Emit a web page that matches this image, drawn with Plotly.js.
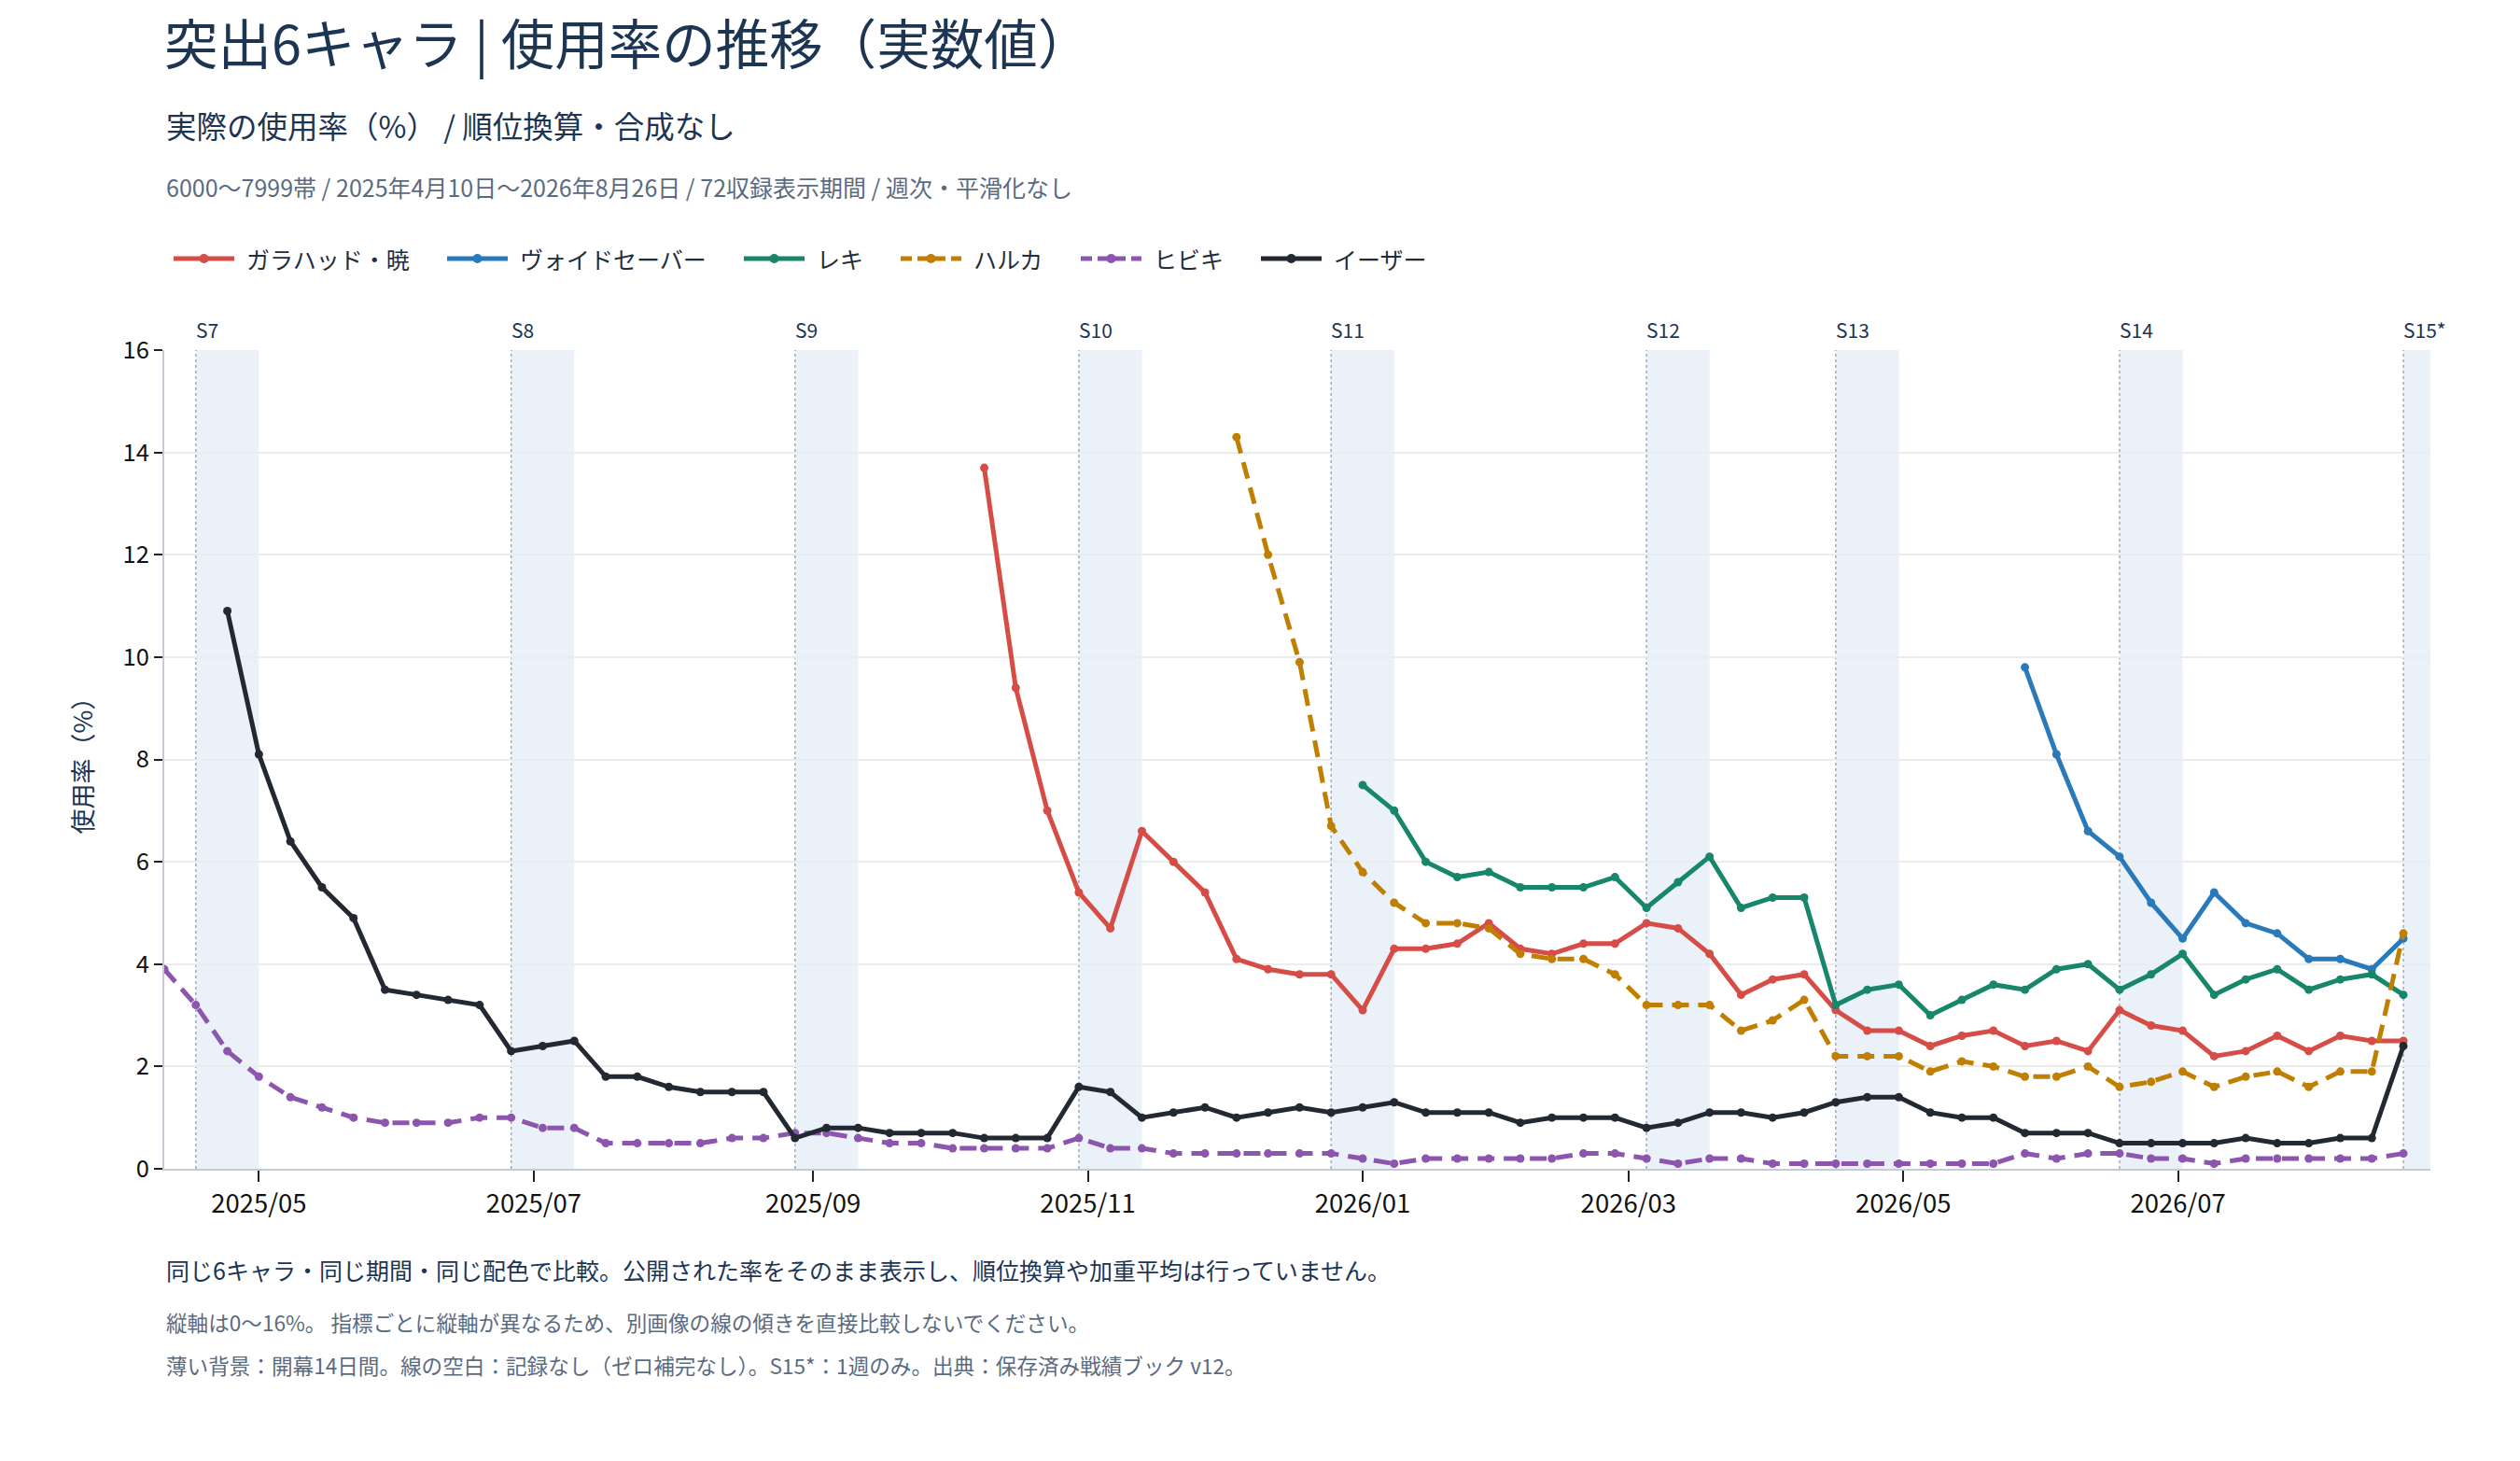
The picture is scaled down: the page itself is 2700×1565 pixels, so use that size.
<!DOCTYPE html>
<html>
<head>
<meta charset="utf-8">
<script src="https://cdn.plot.ly/plotly-3.0.1.min.js"></script>
<style>
  html, body { margin: 0; padding: 0; background: #ffffff; }
  #chart { width: 2700px; height: 1565px; }
</style>
</head>
<body>
<div id="chart"></div>
<script>
// Weekly records, 72 weeks from 2025-04-10. null = no record (line gap, no zero fill).
const START_DATE = "2025-04-10";
const WEEKS = 72;

const galahad = [
  null, null, null, null, null, null, null, null, null, null,
  null, null, null, null, null, null, null, null, null, null,
  null, null, null, null, null, null, 13.7, 9.4, 7.0, 5.4,
  4.7, 6.6, 6.0, 5.4, 4.1, 3.9, 3.8, 3.8, 3.1, 4.3,
  4.3, 4.4, 4.8, 4.3, 4.2, 4.4, 4.4, 4.8, 4.7, 4.2,
  3.4, 3.7, 3.8, 3.1, 2.7, 2.7, 2.4, 2.6, 2.7, 2.4,
  2.5, 2.3, 3.1, 2.8, 2.7, 2.2, 2.3, 2.6, 2.3, 2.6,
  2.5, 2.5,
];
const voidSaver = [
  null, null, null, null, null, null, null, null, null, null,
  null, null, null, null, null, null, null, null, null, null,
  null, null, null, null, null, null, null, null, null, null,
  null, null, null, null, null, null, null, null, null, null,
  null, null, null, null, null, null, null, null, null, null,
  null, null, null, null, null, null, null, null, null, 9.8,
  8.1, 6.6, 6.1, 5.2, 4.5, 5.4, 4.8, 4.6, 4.1, 4.1,
  3.9, 4.5,
];
const reki = [
  null, null, null, null, null, null, null, null, null, null,
  null, null, null, null, null, null, null, null, null, null,
  null, null, null, null, null, null, null, null, null, null,
  null, null, null, null, null, null, null, null, 7.5, 7.0,
  6.0, 5.7, 5.8, 5.5, 5.5, 5.5, 5.7, 5.1, 5.6, 6.1,
  5.1, 5.3, 5.3, 3.2, 3.5, 3.6, 3.0, 3.3, 3.6, 3.5,
  3.9, 4.0, 3.5, 3.8, 4.2, 3.4, 3.7, 3.9, 3.5, 3.7,
  3.8, 3.4,
];
const haruka = [
  null, null, null, null, null, null, null, null, null, null,
  null, null, null, null, null, null, null, null, null, null,
  null, null, null, null, null, null, null, null, null, null,
  null, null, null, null, 14.3, 12.0, 9.9, 6.7, 5.8, 5.2,
  4.8, 4.8, 4.7, 4.2, 4.1, 4.1, 3.8, 3.2, 3.2, 3.2,
  2.7, 2.9, 3.3, 2.2, 2.2, 2.2, 1.9, 2.1, 2.0, 1.8,
  1.8, 2.0, 1.6, 1.7, 1.9, 1.6, 1.8, 1.9, 1.6, 1.9,
  1.9, 4.6,
];
const hibiki = [
  3.9, 3.2, 2.3, 1.8, 1.4, 1.2, 1.0, 0.9, 0.9, 0.9,
  1.0, 1.0, 0.8, 0.8, 0.5, 0.5, 0.5, 0.5, 0.6, 0.6,
  0.7, 0.7, 0.6, 0.5, 0.5, 0.4, 0.4, 0.4, 0.4, 0.6,
  0.4, 0.4, 0.3, 0.3, 0.3, 0.3, 0.3, 0.3, 0.2, 0.1,
  0.2, 0.2, 0.2, 0.2, 0.2, 0.3, 0.3, 0.2, 0.1, 0.2,
  0.2, 0.1, 0.1, 0.1, 0.1, 0.1, 0.1, 0.1, 0.1, 0.3,
  0.2, 0.3, 0.3, 0.2, 0.2, 0.1, 0.2, 0.2, 0.2, 0.2,
  0.2, 0.3,
];
const izar = [
  null, null, 10.9, 8.1, 6.4, 5.5, 4.9, 3.5, 3.4, 3.3,
  3.2, 2.3, 2.4, 2.5, 1.8, 1.8, 1.6, 1.5, 1.5, 1.5,
  0.6, 0.8, 0.8, 0.7, 0.7, 0.7, 0.6, 0.6, 0.6, 1.6,
  1.5, 1.0, 1.1, 1.2, 1.0, 1.1, 1.2, 1.1, 1.2, 1.3,
  1.1, 1.1, 1.1, 0.9, 1.0, 1.0, 1.0, 0.8, 0.9, 1.1,
  1.1, 1.0, 1.1, 1.3, 1.4, 1.4, 1.1, 1.0, 1.0, 0.7,
  0.7, 0.7, 0.5, 0.5, 0.5, 0.5, 0.6, 0.5, 0.5, 0.6,
  0.6, 2.4,
];

// Season openings (first 14 days shaded). S15 has only one week recorded.
const seasonLabels = ["S7", "S8", "S9", "S10", "S11", "S12", "S13", "S14", "S15*"];
const seasonStarts = [
  "2025-04-17", "2025-06-26", "2025-08-28", "2025-10-30", "2025-12-25",
  "2026-03-05", "2026-04-16", "2026-06-18", "2026-08-20",
];
const OPENING_DAYS = 14;
const X_RANGE = ["2025-04-10", "2026-08-26"];

const FONT = "'Noto Sans CJK JP', 'Noto Sans', sans-serif";
const NAVY = "#1c3553";
const MUTED = "#5b6b7f";
const DASH = "18px,10px";

function addDays(iso, n) {
  const d = new Date(iso + "T00:00:00Z");
  d.setUTCDate(d.getUTCDate() + n);
  return d.toISOString().slice(0, 10);
}

const dates = Array.from({ length: WEEKS }, (_, i) => addDays(START_DATE, i * 7));

const series = [
  { name: "ガラハッド・暁", y: galahad, color: "#d64c47", dash: "solid" },
  { name: "ヴォイドセーバー", y: voidSaver, color: "#2a79b9", dash: "solid" },
  { name: "レキ", y: reki, color: "#17866a", dash: "solid" },
  { name: "ハルカ", y: haruka, color: "#c07f00", dash: DASH },
  { name: "ヒビキ", y: hibiki, color: "#8c55ae", dash: DASH },
  { name: "イーザー", y: izar, color: "#232932", dash: "solid" },
];

const traces = series.map((s) => ({
  x: dates,
  y: s.y,
  name: s.name,
  type: "scatter",
  mode: "lines+markers",
  connectgaps: false,
  line: { color: s.color, width: 5, dash: s.dash },
  marker: { color: s.color, size: 9 },
}));

// plot area in pixels (used to place the text blocks and the legend row)
const PLOT_LEFT = 176;
const PLOT_RIGHT = 2604;
const PLOT_TOP = 375;
const PLOT_BOTTOM = 1252;
const px = (x) => (x - PLOT_LEFT) / (PLOT_RIGHT - PLOT_LEFT);
const py = (y) => (PLOT_BOTTOM - y) / (PLOT_BOTTOM - PLOT_TOP);

const shapes = [];
const annotations = [];
seasonStarts.forEach((start, i) => {
  let end = addDays(start, OPENING_DAYS);
  if (end > X_RANGE[1]) end = X_RANGE[1];
  shapes.push({
    type: "rect", xref: "x", yref: "paper", x0: start, x1: end, y0: 0, y1: 1,
    fillcolor: "rgba(205,220,240,0.4)", line: { width: 0 }, layer: "below",
  });
  shapes.push({
    type: "line", xref: "x", yref: "paper", x0: start, x1: start, y0: 0, y1: 1,
    line: { color: "#9eabbb", width: 1.5, dash: "dot" }, layer: "below",
  });
  annotations.push({
    text: seasonLabels[i], xref: "x", yref: "paper", x: start, y: py(353),
    xanchor: "left", yanchor: "middle", showarrow: false, xshift: -2,
    font: { family: FONT, size: 21, color: NAVY },
  });
});

// Legend row drawn by hand so the key lines are as long as in the original.
const LEGEND_FONT = 25;
const measure = document.createElement("canvas").getContext("2d");
measure.font = `${LEGEND_FONT}px 'Noto Sans CJK JP'`;
let lx = 186;
const ly = py(277);
series.forEach((s) => {
  const len = 65;
  shapes.push({
    type: "line", xref: "paper", yref: "paper", x0: px(lx), x1: px(lx + len), y0: ly, y1: ly,
    line: { color: s.color, width: 5, dash: s.dash === "solid" ? "solid" : "12px,6px" },
  });
  shapes.push({
    type: "circle", xref: "paper", yref: "paper", xsizemode: "pixel", ysizemode: "pixel",
    xanchor: px(lx + len / 2), yanchor: ly, x0: -5, x1: 5, y0: -5, y1: 5,
    fillcolor: s.color, line: { width: 0 },
  });
  annotations.push({
    text: s.name, xref: "paper", yref: "paper", x: px(lx + len + 11), y: ly,
    xanchor: "left", yanchor: "middle", showarrow: false,
    font: { family: FONT, size: LEGEND_FONT, color: "#1f2d3d" },
  });
  lx += len + 11 + measure.measureText(s.name).width + 42;
});

const textLines = [
  { text: "実際の使用率（%） / 順位換算・合成なし", y: 133, size: 32.5, color: NAVY },
  { text: "6000〜7999帯 / 2025年4月10日〜2026年8月26日 / 72収録表示期間 / 週次・平滑化なし", y: 200, size: 25, color: MUTED },
  { text: "同じ6キャラ・同じ期間・同じ配色で比較。公開された率をそのまま表示し、順位換算や加重平均は行っていません。", y: 1360, size: 25, color: NAVY },
  { text: "縦軸は0〜16%。 指標ごとに縦軸が異なるため、別画像の線の傾きを直接比較しないでください。", y: 1416, size: 22.6, color: MUTED },
  { text: "薄い背景：開幕14日間。線の空白：記録なし（ゼロ補完なし）。S15*：1週のみ。出典：保存済み戦績ブック v12。", y: 1462, size: 22.6, color: MUTED },
];
textLines.forEach((t) => {
  annotations.push({
    text: t.text, xref: "paper", yref: "paper", x: 0, y: py(t.y),
    xanchor: "left", yanchor: "middle", showarrow: false,
    font: { family: FONT, size: t.size, color: t.color },
  });
});

const layout = {
  width: 2700,
  height: 1565,
  paper_bgcolor: "#ffffff",
  plot_bgcolor: "#ffffff",
  font: { family: FONT, size: 25, color: "#1a1a1a" },
  margin: { l: PLOT_LEFT, r: 2700 - PLOT_RIGHT, t: PLOT_TOP, b: 1565 - PLOT_BOTTOM },
  title: {
    text: "突出6キャラ | 使用率の推移（実数値）",
    x: 0, xref: "paper", xanchor: "left",
    y: 1 - 49 / 1565, yref: "container", yanchor: "middle",
    font: { family: FONT, size: 57.5, color: NAVY },
  },
  xaxis: {
    type: "date",
    range: X_RANGE,
    tick0: "2025-05-01",
    dtick: "M2",
    tickformat: "%Y/%m",
    showgrid: false,
    zeroline: false,
    showline: true,
    linecolor: "#c3cbd5",
    linewidth: 2,
    ticks: "outside",
    ticklen: 12,
    tickwidth: 2,
    tickcolor: "#222222",
    tickfont: { family: FONT, size: 27.5, color: "#111111" },
  },
  yaxis: {
    range: [0, 16],
    dtick: 2,
    showgrid: true,
    gridcolor: "#ececec",
    gridwidth: 1.5,
    zeroline: false,
    showline: true,
    linecolor: "#c3cbd5",
    linewidth: 2,
    ticks: "outside",
    ticklen: 9,
    tickwidth: 2,
    tickcolor: "#222222",
    tickfont: { family: FONT, size: 25.5, color: "#111111" },
    title: { text: "使用率（%）", standoff: 24, font: { family: FONT, size: 27, color: NAVY } },
  },
  showlegend: false,
  hovermode: "x unified",
  shapes,
  annotations,
};

Plotly.newPlot("chart", traces, layout, { displayModeBar: false, responsive: false });
</script>
</body>
</html>
